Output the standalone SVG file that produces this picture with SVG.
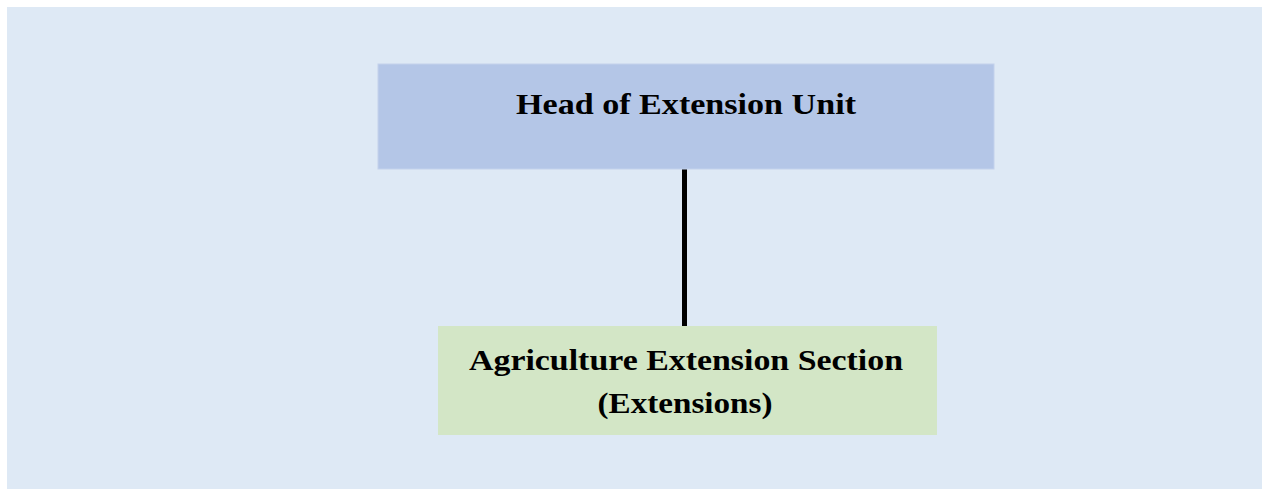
<svg xmlns="http://www.w3.org/2000/svg" width="1262" height="489" viewBox="0 0 1262 489">
  <style>
    .label { font-family: "Liberation Serif", "Times New Roman", serif; font-weight: bold; font-size: 29px; fill: #000; text-anchor: middle; }
    .link { stroke: #000; stroke-width: 5; fill: none; }
  </style>
  <rect x="0" y="0" width="1262" height="489" fill="#ffffff"/>
  <rect x="7" y="7" width="1255" height="482" fill="#dee9f5"/>
  <g id="connectors">
    <line class="link" x1="684.5" y1="169" x2="684.5" y2="326"/>
  </g>
  <g id="head-of-extension-unit">
    <rect x="378" y="64" width="616" height="105" fill="#b4c6e7" stroke="#c3d2ec" stroke-width="1"/>
    <text class="label" x="686" y="114" textLength="340" lengthAdjust="spacingAndGlyphs">Head of Extension Unit</text>
  </g>
  <g id="agriculture-extension-section">
    <rect x="438" y="326" width="499" height="109" fill="#d3e6c6"/>
    <text class="label" x="686" y="370" textLength="434" lengthAdjust="spacingAndGlyphs">Agriculture Extension Section</text>
    <text class="label" x="685" y="413" textLength="175" lengthAdjust="spacingAndGlyphs">(Extensions)</text>
  </g>
</svg>
